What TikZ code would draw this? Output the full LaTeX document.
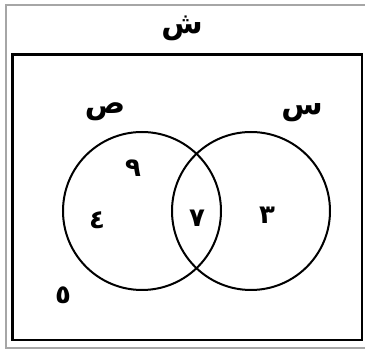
\documentclass[tikz,border=0pt]{standalone}
\usepackage{fontspec}
\newfontfamily\arabicfont[Script=Arabic]{DejaVu Sans}
\TeXXeTstate=1
\tikzset{
  lbl/.style={font=\arabicfont\bfseries\fontsize{30}{34}\selectfont, inner sep=0pt},
  num/.style={font=\arabicfont\bfseries\fontsize{26}{30}\selectfont, inner sep=0pt},
  setcircle/.style={circle, draw=black, line width=2pt, minimum size=158pt, inner sep=0pt},
}
\begin{document}
\begin{tikzpicture}[x=1pt,y=-1pt]
  \useasboundingbox (0,0) rectangle (365,352);
  % outer gray frame (right side cut off)
  \draw[gray!70, line width=1.4pt] (365,5) -- (6,5) -- (6,348) -- (365,348);
  % universal set
  \draw[black, line width=2.6pt] (12.5,54.5) rectangle (362,340);
  \node[lbl] (U) at (182,28) {\beginR ش\endR};
  % circles
  \node[setcircle] (B) at (142,211) {};
  \node[setcircle] (A) at (251,211) {};
  \node[lbl] (Blbl) at (105,112) {\beginR ص\endR};
  \node[lbl] (Albl) at (302,113) {\beginR س\endR};
  % elements
  \node[num] (n9) at (133,168) {\beginR ٩\endR};
  \node[num] (n4) at (97,220) {\beginR ٤\endR};
  \node[num] (n7) at (197,218) {\beginR ٧\endR};
  \node[num] (n3) at (267,215) {\beginR ٣\endR};
  \node[num] (n5) at (63,295) {\beginR ٥\endR};
\end{tikzpicture}
\end{document}
